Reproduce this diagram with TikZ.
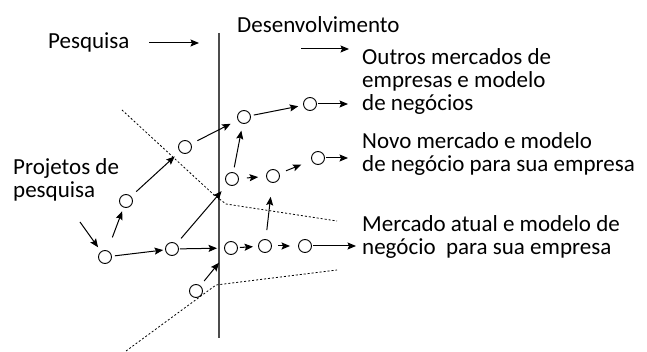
\documentclass[tikz,border=0pt]{standalone}
\usepackage{fontspec}
\setmainfont{Carlito}
\usetikzlibrary{arrows.meta}

\begin{document}
\begin{tikzpicture}[x=1pt,y=-1pt,
    stage/.style={circle,draw,line width=0.9pt,minimum size=13pt,inner sep=0pt},
    flow/.style={-{Stealth[length=8.5pt,width=7pt,inset=1.5pt]},line width=1pt},
    txt/.style={anchor=base west,inner sep=0pt,align=left,font=\fontsize{23}{23}\selectfont},
    boundary/.style={line width=0.8pt,dash pattern=on 2pt off 2pt}]
    \useasboundingbox (0,0) rectangle (647,352);

    % research / development divide
    \draw[line width=1.5pt,black!70] (219,33) -- (219,338);
    \draw[boundary] (122,110) -- (213,194) -- (226,204) -- (337,221);
    \draw[boundary] (126,351) -- (216,285) -- (337,270);

    % headings
    \node[txt] (pes) at (48,49) {Pesquisa};
    \node[txt] (des) at (237,33) {Desenvolvimento};
    \coordinate (pa) at (149,43);
    \coordinate (pb) at (199,43);
    \draw[flow] (pa) -- (pb);
    \coordinate (da) at (301,49);
    \coordinate (db) at (349,49);
    \draw[flow] (da) -- (db);

    % labels (base = last line)
    \node[txt] (proj) at (13,198) {Projetos de\\pesquisa};
    \node[txt] (outros) at (362,111) {Outros mercados de\\empresas e modelo\\de negócios};
    \node[txt] (novo) at (362,172) {Novo mercado e modelo\\de negócio para sua empresa};
    \node[txt] (atual) at (362,255) {Mercado atual e modelo de\\negócio\ \ para sua empresa};

    % projects
    \node[stage] (p1) at (105,257) {};
    \node[stage] (p2) at (126,201) {};
    \node[stage] (p3) at (185,147) {};
    \node[stage] (p4) at (244,117) {};
    \node[stage] (p5) at (310,104) {};
    \node[stage] (q1) at (172,249) {};
    \node[stage] (q2) at (231,248) {};
    \node[stage] (q3) at (265,246) {};
    \node[stage] (q4) at (305,246) {};
    \node[stage] (r1) at (232,179) {};
    \node[stage] (r2) at (273,176) {};
    \node[stage] (r3) at (318,158) {};
    \node[stage] (s1) at (196,291) {};

    \coordinate (in) at (80,222);
    \coordinate (o1) at (348,104);
    \coordinate (o2) at (348,158);
    \coordinate (o3) at (356,246);

    \draw[flow,shorten >=5pt] (in) -- (p1);
    \draw[flow,shorten <=14pt,shorten >=4pt] (p1) -- (p2);
    \draw[flow,shorten <=7pt,shorten >=7pt] (p2) -- (p3);
    \draw[flow,shorten <=7pt,shorten >=8pt] (p3) -- (p4);
    \draw[flow,shorten <=3pt,shorten >=5pt] (p4) -- (p5);
    \draw[flow,shorten <=1.5pt] (p5) -- (o1);

    \draw[flow,shorten <=3pt,shorten >=2pt] (p1) -- (q1);
    \draw[flow,shorten <=1pt,shorten >=7pt] (q1) -- (q2);
    \draw[flow,shorten <=7pt,shorten >=9pt] (q1) -- (r1);
    \draw[flow,shorten <=6pt,shorten >=12pt] (s1) -- (q2);

    \draw[flow,shorten <=5pt,shorten >=7pt] (r1) -- (p4);
    \draw[flow,shorten <=8pt,shorten >=8pt] (r1) -- (r2);
    \draw[flow,shorten <=7pt,shorten >=11pt] (r2) -- (r3);
    \draw[flow,shorten <=1pt] (r3) -- (o2);

    \draw[flow,shorten <=2pt,shorten >=5pt] (q2) -- (q3);
    \draw[flow,shorten <=6pt,shorten >=8pt] (q3) -- (q4);
    \draw[flow,shorten <=1.5pt] (q4) -- (o3);
    \draw[flow,shorten <=9pt,shorten >=14pt] (q3) -- (r2);
\end{tikzpicture}
\end{document}
